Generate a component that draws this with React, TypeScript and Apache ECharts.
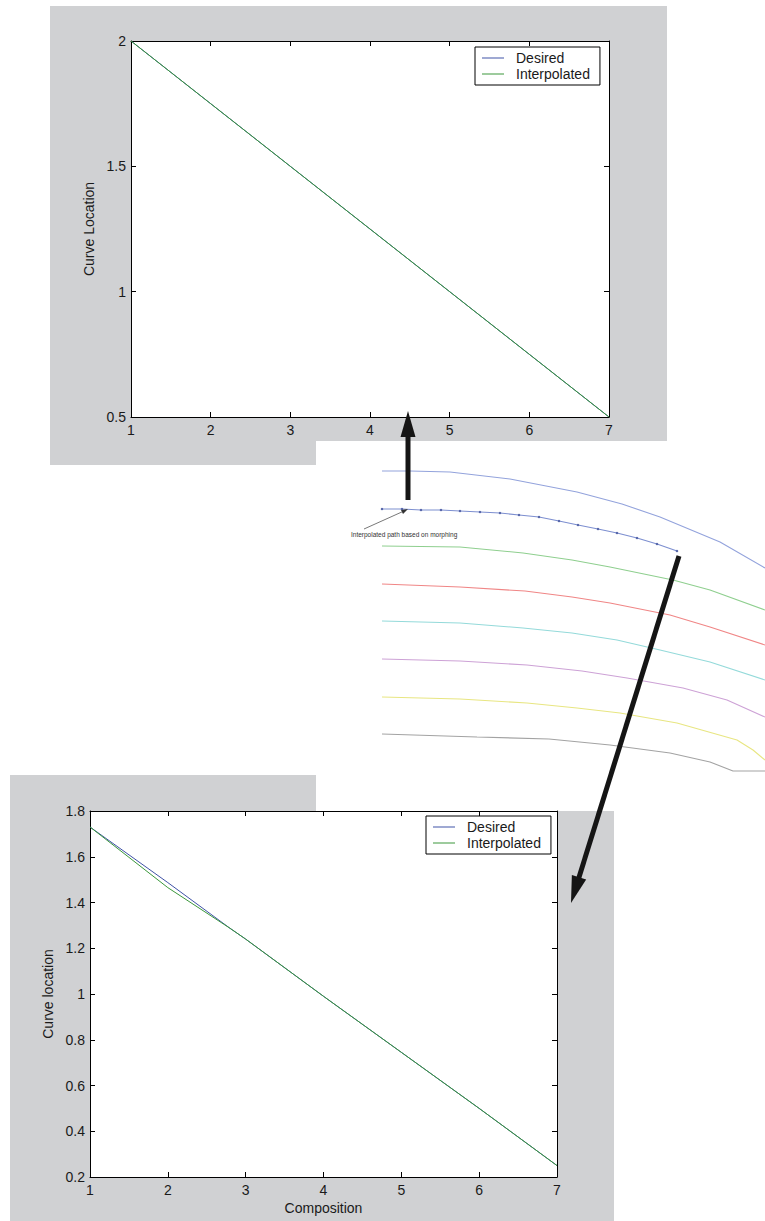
import React, { useEffect, useRef } from "react";
import * as echarts from "echarts";

// ---------- Data ----------
const seriesNames = ["Desired", "Interpolated"];

// Top chart (Composition vs Curve Location)
const topDesired: [number, number][] = [[1, 2], [2, 1.75], [3, 1.5], [4, 1.25], [5, 1], [6, 0.75], [7, 0.5]];
const topInterpolated: [number, number][] = [[1, 2], [2, 1.75], [3, 1.5], [4, 1.25], [5, 1], [6, 0.75], [7, 0.5]];

// Bottom chart
const botDesired: [number, number][] = [[1, 1.73], [2, 1.487], [2.8, 1.287], [3, 1.24], [4, 0.99], [5, 0.745], [6, 0.5], [7, 0.25]];
const botInterpolated: [number, number][] = [[1, 1.73], [2, 1.465], [2.8, 1.287], [3, 1.24], [4, 0.99], [5, 0.745], [6, 0.5], [7, 0.25]];

// Middle illustration: family of curves (x right, y down, in sketch units)
const curveTop: [number, number][] = [[0, 11], [28, 11], [68, 12], [128, 19], [195, 32], [240, 44], [278, 57], [338, 82], [383, 108]];
const curveMorph: [number, number][] = [[0, 49], [20, 49], [39, 50], [59, 50], [78, 51], [98, 52], [118, 53], [137, 55], [157, 57], [177, 61], [196, 65], [216, 69], [235, 73], [255, 78], [275, 84], [295, 91]];
const curveGreen: [number, number][] = [[0, 86], [78, 87], [141, 93], [190, 100], [228, 107], [291, 120], [328, 130], [383, 150]];
const curveRed: [number, number][] = [[0, 124], [78, 127], [143, 131], [190, 137], [228, 143], [288, 155], [328, 167], [383, 185]];
const curveCyan: [number, number][] = [[0, 161], [78, 163], [141, 168], [190, 173], [235, 180], [278, 190], [328, 202], [383, 220]];
const curvePurple: [number, number][] = [[0, 199], [78, 201], [145, 205], [200, 211], [245, 218], [301, 228], [345, 240], [383, 257]];
const curveYellow: [number, number][] = [[0, 237], [78, 239], [145, 243], [195, 248], [238, 253], [295, 263], [355, 280], [371, 290], [383, 300]];
const curveGray: [number, number][] = [[0, 274], [95, 277], [167, 279], [228, 285], [288, 293], [328, 302], [351, 311], [383, 311]];

const FONT = "'Liberation Sans', Arial, Helvetica, sans-serif";
const GRAY = "#d0d1d3";
const BLUE = "#3f52a6";
const GREEN = "#3a973a";

function makeAxes(gi: number, xmin: number, xmax: number, xint: number, ymin: number, ymax: number, yint: number, yName: string, yGap: number, xName: string, xGap: number) {
  const line = { show: true, onZero: false, lineStyle: { color: "#000", width: 1 } };
  const tick = { show: true, inside: true, length: 5, lineStyle: { color: "#000", width: 1 } };
  const label = { color: "#1a1a1a", fontSize: 14, fontFamily: FONT, margin: 6 };
  const xa = [
    { type: "value", gridIndex: gi, position: "bottom", min: xmin, max: xmax, interval: xint, axisLine: line, axisTick: tick, axisLabel: label, splitLine: { show: false }, name: xName, nameLocation: "middle", nameGap: xGap, nameTextStyle: { color: "#1a1a1a", fontSize: 14, fontFamily: FONT } },
    { type: "value", gridIndex: gi, position: "top", min: xmin, max: xmax, interval: xint, axisLine: line, axisTick: tick, axisLabel: { show: false }, splitLine: { show: false } },
  ];
  const ya = [
    { type: "value", gridIndex: gi, position: "left", min: ymin, max: ymax, interval: yint, axisLine: line, axisTick: tick, axisLabel: { ...label, margin: 5 }, splitLine: { show: false }, name: yName, nameLocation: "middle", nameGap: yGap, nameRotate: 90, nameTextStyle: { color: "#1a1a1a", fontSize: 14, fontFamily: FONT } },
    { type: "value", gridIndex: gi, position: "right", min: ymin, max: ymax, interval: yint, axisLine: line, axisTick: tick, axisLabel: { show: false }, splitLine: { show: false } },
  ];
  return { xa, ya };
}

function legendAt(left: number, top: number) {
  return {
    show: true,
    left,
    top,
    orient: "vertical",
    data: seriesNames,
    backgroundColor: "#fff",
    borderColor: "#000",
    borderWidth: 1,
    borderRadius: 0,
    padding: [4, 10, 4, 7],
    itemGap: 2,
    itemWidth: 22,
    itemHeight: 14,
    icon: "path://M0,7 L22,7 L22,8 L0,8 Z",
    selectedMode: false,
    textStyle: { color: "#1a1a1a", fontSize: 14, fontFamily: FONT, padding: [0, 0, 0, 7] },
  };
}

export default function App() {
  const ref = useRef<HTMLDivElement>(null);
  useEffect(() => {
    document.body.style.margin = "0";
    if (!ref.current) return;
    const chart = echarts.init(ref.current, null, { renderer: "svg" });

    const a0 = makeAxes(0, 1, 7, 1, 0.5, 2, 0.5, "Curve Location", 33, "", 0);
    const a1 = makeAxes(1, 1, 7, 1, 0.2, 1.8, 0.2, "Curve location", 34, "Composition", 24);

    const midX = { type: "value", gridIndex: 2, min: 0, max: 383, show: false };
    const midY = { type: "value", gridIndex: 2, min: 0, max: 320, inverse: true, show: false };

    const thin = (color: string, data: [number, number][]) => ({
      type: "line",
      xAxisIndex: 4,
      yAxisIndex: 4,
      data,
      symbol: "none",
      smooth: false,
      lineStyle: { color, width: 1.1 },
      silent: true,
    });

    // down arrow geometry
    const tip = [571, 903];
    const tail = [679, 556];
    const dx = tip[0] - tail[0], dy = tip[1] - tail[1];
    const len = Math.sqrt(dx * dx + dy * dy);
    const ux = dx / len, uy = dy / len;
    const hl = 27, hw = 7.5;
    const bx = tip[0] - ux * hl, by = tip[1] - uy * hl;

    chart.setOption({
      animation: false,
      backgroundColor: "#fff",
      graphic: [
        { type: "polygon", z: -10, shape: { points: [[50, 6], [667, 6], [667, 441], [316, 441], [316, 465], [50, 465]] }, style: { fill: GRAY } },
        { type: "polygon", z: -10, shape: { points: [[10, 775], [316, 775], [316, 811], [614, 811], [614, 1221], [10, 1221]] }, style: { fill: GRAY } },
        // up arrow
        { type: "line", z: 100, shape: { x1: 408, y1: 500, x2: 408, y2: 432 }, style: { stroke: "#151515", lineWidth: 5 } },
        { type: "polygon", z: 100, shape: { points: [[408, 411], [400.5, 437], [415.5, 437]] }, style: { fill: "#151515" } },
        // down arrow
        { type: "line", z: 100, shape: { x1: tail[0], y1: tail[1], x2: bx + ux * 2, y2: by + uy * 2 }, style: { stroke: "#151515", lineWidth: 5 } },
        { type: "polygon", z: 100, shape: { points: [tip, [bx - uy * hw, by + ux * hw], [bx + uy * hw, by - ux * hw]] }, style: { fill: "#151515" } },
        // annotation
        { type: "line", z: 100, shape: { x1: 364, y1: 529, x2: 404, y2: 511 }, style: { stroke: "#555", lineWidth: 0.8 } },
        { type: "polygon", z: 100, shape: { points: [[408, 509], [401, 510], [403, 514]] }, style: { fill: "#333" } },
        { type: "text", z: 100, x: 351, y: 531, style: { text: "Interpolated path based on morphing", fill: "#333", font: `6.5px ${FONT}` } },
      ],
      grid: [
        { left: 131, top: 41, width: 478, height: 376, show: true, backgroundColor: "#fff", borderWidth: 0, containLabel: false, outerBoundsMode: "none" },
        { left: 90, top: 811, width: 467, height: 366, show: true, backgroundColor: "#fff", borderWidth: 0, containLabel: false, outerBoundsMode: "none" },
        { left: 382, top: 460, width: 383, height: 320, show: false, containLabel: false, outerBoundsMode: "none" },
      ],
      xAxis: [...a0.xa, ...a1.xa, midX],
      yAxis: [...a0.ya, ...a1.ya, midY],
      legend: [legendAt(475, 47), legendAt(426, 816)],
      series: [
        { name: "Desired", type: "line", xAxisIndex: 0, yAxisIndex: 0, data: topDesired, symbol: "none", lineStyle: { color: BLUE, width: 1 }, itemStyle: { color: BLUE } },
        { name: "Interpolated", type: "line", xAxisIndex: 0, yAxisIndex: 0, data: topInterpolated, symbol: "none", lineStyle: { color: GREEN, width: 1 }, itemStyle: { color: GREEN } },
        { name: "Desired", type: "line", xAxisIndex: 2, yAxisIndex: 2, data: botDesired, symbol: "none", lineStyle: { color: BLUE, width: 1 }, itemStyle: { color: BLUE } },
        { name: "Interpolated", type: "line", xAxisIndex: 2, yAxisIndex: 2, data: botInterpolated, symbol: "none", lineStyle: { color: GREEN, width: 1 }, itemStyle: { color: GREEN } },
        thin("#93a3dc", curveTop),
        {
          type: "line", xAxisIndex: 4, yAxisIndex: 4, data: curveMorph, smooth: false, silent: true,
          symbol: "circle", symbolSize: 2.5, showSymbol: true,
          lineStyle: { color: "#7d8fd0", width: 1.1 }, itemStyle: { color: "#5565a8", borderWidth: 0 },
        },
        thin("#8fcf8f", curveGreen),
        thin("#f08686", curveRed),
        thin("#94dada", curveCyan),
        thin("#cda2d6", curvePurple),
        thin("#e8e682", curveYellow),
        thin("#a3a3a3", curveGray),
      ],
    });
    return () => chart.dispose();
  }, []);
  return <div ref={ref} style={{ width: 765, height: 1221 }} />;
}
